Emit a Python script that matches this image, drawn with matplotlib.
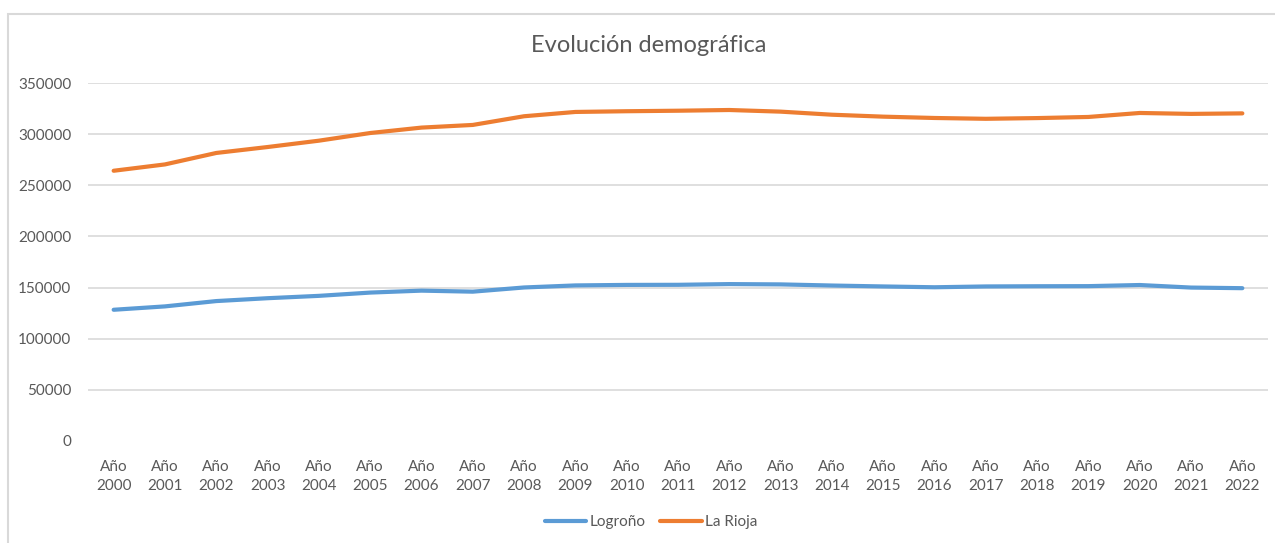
import matplotlib.pyplot as plt
from matplotlib.patches import Rectangle

years = list(range(2000, 2023))
labels = [f"Año\n{y}" for y in years]
logrono = [128300, 131600, 136800, 139600, 141900, 145100, 147000, 146000,
           150100, 152100, 152600, 152700, 153400, 153100, 152000, 151100,
           150300, 151100, 151300, 151400, 152500, 150000, 149400]
la_rioja = [264200, 270400, 281600, 287400, 293600, 301100, 306400, 309000,
            317500, 321700, 322400, 322900, 323600, 322000, 319000, 317100,
            315800, 315000, 315700, 316800, 320700, 319800, 320300]

plt.rcParams["font.family"] = ["Lato", "DejaVu Sans"]
txt = "#595959"

fig = plt.figure(figsize=(12.75, 5.43), dpi=100)
fig.patches.append(Rectangle((8 / 1275, -0.1), 1.2, (543 - 14) / 543 + 0.1,
                             transform=fig.transFigure, fill=False,
                             edgecolor="#D9D9D9", linewidth=1.5))

ax = fig.add_axes([88 / 1275, 102 / 543, 1180 / 1275, 358 / 543])
x = list(range(len(years)))
ax.plot(x, logrono, color="#5B9BD5", linewidth=3.0, solid_capstyle="round",
        solid_joinstyle="round", label="Logroño")
ax.plot(x, la_rioja, color="#ED7D31", linewidth=3.0, solid_capstyle="round",
        solid_joinstyle="round", label="La Rioja")

ax.set_xlim(-0.5, len(years) - 0.5)
ax.set_ylim(0, 350000)
ax.set_yticks(range(0, 350001, 50000))
ax.set_xticks(x)
ax.set_xticklabels(labels, linespacing=1.45)
ax.tick_params(axis="both", length=0, colors=txt, labelsize=11)
ax.tick_params(axis="y", pad=12)
ax.tick_params(axis="x", pad=14)
ax.grid(axis="y", color="#D9D9D9", linewidth=1.2)
ax.yaxis.get_gridlines()[0].set_visible(False)
ax.set_axisbelow(True)
for s in ax.spines.values():
    s.set_visible(False)

fig.text(649 / 1275, 1 - 45 / 543, "Evolución demográfica", color=txt,
         fontsize=17, ha="center", va="center")
fig.legend(loc="center", bbox_to_anchor=(651 / 1275, 1 - 522 / 543), ncol=2,
           frameon=False, fontsize=11, labelcolor=txt, handlelength=2.7,
           handletextpad=0.2, columnspacing=1.0)

fig.savefig("out.png", dpi=100)
